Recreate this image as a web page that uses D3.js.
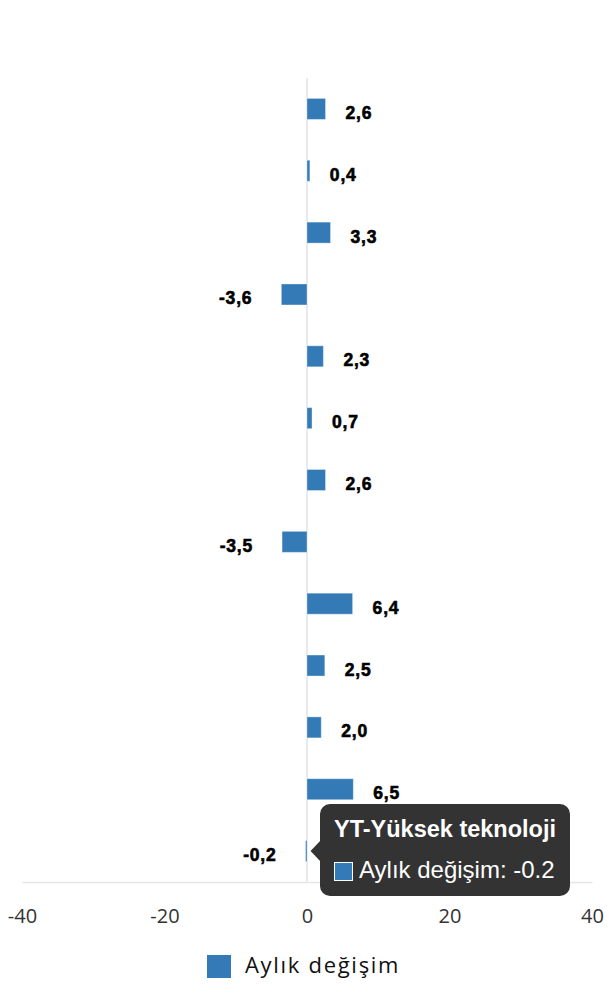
<!DOCTYPE html>
<html>
<head>
<meta charset="utf-8">
<script src="https://cdn.jsdelivr.net/npm/d3@7"></script>
<style>
  html, body { margin: 0; padding: 0; background: #fff; }
  svg { display: block; }
</style>
</head>
<body>
<svg id="chart" width="610" height="1000"></svg>
<script>
// ---- data ----
const categories = [
  "Kalem 1", "Kalem 2", "Kalem 3", "Kalem 4", "Kalem 5", "Kalem 6", "Kalem 7",
  "Kalem 8", "Kalem 9", "Kalem 10", "Kalem 11", "Kalem 12", "YT-Yüksek teknoloji"
];
const values = [2.6, 0.4, 3.3, -3.6, 2.3, 0.7, 2.6, -3.5, 6.4, 2.5, 2.0, 6.5, -0.2];
const seriesName = "Aylık değişim";
const xTicks = [-40, -20, 0, 20, 40];
const tooltipIndex = 12;

// ---- layout ----
const svg = d3.select("#chart");
const color = "#337ab7";
const x = d3.scaleLinear().domain([-40, 40]).range([22, 592]);
const y = d3.scaleBand().domain(categories).range([78, 882]).padding(0);
const barH = 21;
const cy = c => y(c) + y.bandwidth() / 2;

// zero line
svg.append("line")
  .attr("x1", x(0)).attr("x2", x(0))
  .attr("y1", 78).attr("y2", 882)
  .attr("stroke", "#dfe5ec").attr("stroke-width", 1.5);

// bottom axis
const axis = svg.append("g").attr("transform", "translate(0,882)")
  .call(d3.axisBottom(x).tickValues(xTicks).tickSize(0).tickPadding(0)
    .tickFormat(d => String(d)));
axis.select(".domain").attr("stroke", "#e6e6e6").attr("stroke-width", 1.5);
axis.selectAll("text")
  .attr("y", 41).attr("dy", null)
  .attr("fill", "#333")
  .style("font-family", "'Open Sans', sans-serif")
  .style("font-size", "20px");

// bars
const data = categories.map((c, i) => ({ c, v: values[i] }));
svg.append("g").selectAll("rect").data(data).join("rect")
  .attr("x", d => x(Math.min(0, d.v)))
  .attr("width", d => Math.abs(x(d.v) - x(0)))
  .attr("y", d => cy(d.c) - barH / 2)
  .attr("height", barH)
  .attr("fill", color)
  .attr("stroke", "rgba(255,255,255,0.35)")
  .attr("stroke-width", 1);

// data labels
const fmtComma = v => d3.format(".1f")(v).replace(".", ",").replace("−", "-");
svg.append("g").selectAll("text").data(data).join("text")
  .attr("x", d => d.v >= 0 ? x(d.v) + 20 : x(d.v) - 29)
  .attr("y", d => cy(d.c) + 10)
  .attr("text-anchor", d => d.v >= 0 ? "start" : "end")
  .style("font-family", "'Liberation Sans', Arial, sans-serif")
  .style("font-weight", "bold")
  .style("font-size", "17.5px")
  .style("letter-spacing", "0.8px")
  .attr("fill", "#000")
  .attr("stroke", "#000")
  .attr("stroke-width", 0.6)
  .text(d => fmtComma(d.v));

// legend
const lg = svg.append("g");
lg.append("rect").attr("x", 207).attr("y", 955).attr("width", 24).attr("height", 23).attr("fill", color);
lg.append("text").attr("x", 245).attr("y", 973)
  .style("font-family", "'Open Sans', sans-serif")
  .style("font-size", "22px")
  .style("letter-spacing", "1.7px")
  .attr("fill", "#111")
  .text(seriesName);

// tooltip
const td = data[tooltipIndex];
const tt = svg.append("g");
const tx = 320, ty = 804, tw = 250, th = 92;
const ay = cy(td.c);
tt.append("rect").attr("x", tx).attr("y", ty).attr("width", tw).attr("height", th)
  .attr("rx", 10).attr("fill", "#333333");
tt.append("path")
  .attr("d", `M${tx + 1},${ay - 11} L${x(td.v) + 5},${ay} L${tx + 1},${ay + 11} Z`)
  .attr("fill", "#333333");
tt.append("text").attr("x", 334).attr("y", 837)
  .style("font-family", "'Liberation Sans', Arial, sans-serif")
  .style("font-weight", "bold").style("font-size", "23.5px")
  .attr("fill", "#fff").text(td.c);
tt.append("rect").attr("x", 334.5).attr("y", 862.5).attr("width", 18).attr("height", 18)
  .attr("fill", color).attr("stroke", "#fff").attr("stroke-width", 1);
tt.append("text").attr("x", 359).attr("y", 878)
  .style("font-family", "'Liberation Sans', Arial, sans-serif")
  .style("font-size", "24px")
  .attr("fill", "#fff").text(`${seriesName}: ${td.v}`);
</script>
</body>
</html>
